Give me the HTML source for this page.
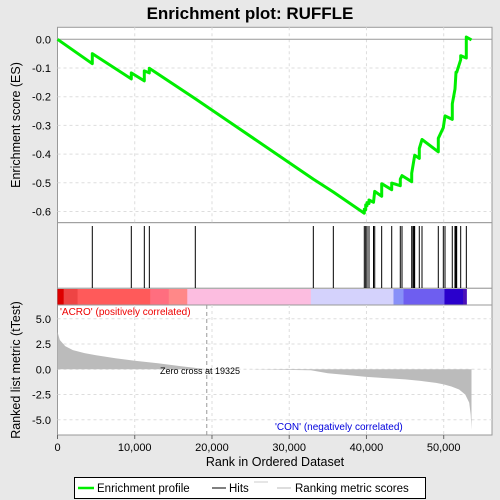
<!DOCTYPE html>
<html><head><meta charset="utf-8">
<style>
body{margin:0;background:#e8e8e8;}
svg{display:block;font-family:"Liberation Sans","DejaVu Sans",sans-serif;}
</style></head>
<body>
<svg id="chart" width="500" height="500" viewBox="0 0 500 500">
<rect x="0" y="0" width="500" height="500" fill="#e8e8e8"/>
<text x="250" y="19" text-anchor="middle" font-size="17" font-weight="bold" fill="#000">Enrichment plot: RUFFLE</text>
<rect x="57.5" y="27.3" width="434.5" height="195.4" fill="#fff" stroke="#999"/>
<rect x="57.5" y="222.7" width="434.5" height="65.6" fill="#fff" stroke="#999"/>
<rect x="57.5" y="288.3" width="434.5" height="16.7" fill="#fff" stroke="#999"/>
<rect x="57.5" y="305" width="434.5" height="130" fill="#fff" stroke="#999"/>
<g id="grid"></g>
<g id="colorbar"></g>
<g id="metric"></g>
<g id="hits"></g>
<g id="es"></g>
<g id="axes"></g>
<text x="60" y="315" font-size="10" fill="#e00">'ACRO' (positively correlated)</text>
<text x="275" y="430" font-size="10" fill="#0000dd">'CON' (negatively correlated)</text>
<text x="160" y="374" font-size="9" fill="#000">Zero cross at 19325</text>
<text transform="translate(20,125) rotate(-90)" text-anchor="middle" font-size="12.5" fill="#000">Enrichment score (ES)</text>
<text transform="translate(20,370) rotate(-90)" text-anchor="middle" font-size="12.5" fill="#000">Ranked list metric (tTest)</text>
<text x="275" y="466" text-anchor="middle" font-size="12.5" fill="#000">Rank in Ordered Dataset</text>
<g>
<rect x="74.5" y="477.5" width="351" height="21" fill="#fff" stroke="#000"/>
<line x1="78" y1="488" x2="94" y2="488" stroke="#00ee00" stroke-width="2.5"/>
<text x="97" y="492" font-size="11.5">Enrichment profile</text>
<line x1="212" y1="488" x2="226" y2="488" stroke="#000" stroke-width="1"/>
<text x="229" y="492" font-size="11.5">Hits</text>
<line x1="254" y1="482" x2="268" y2="482" stroke="#ccc" stroke-width="1"/>
<line x1="277" y1="488" x2="291" y2="488" stroke="#bbb" stroke-width="1"/>
<text x="295" y="492" font-size="11.5">Ranking metric scores</text>
</g>
</svg>
<script>
const xTicks=[0,10000,20000,30000,40000,50000];
const xTickLabels=["0","10,000","20,000","30,000","40,000","50,000"];
const esTicks=[0,-0.1,-0.2,-0.3,-0.4,-0.5,-0.6];
const esTickLabels=["0.0","-0.1","-0.2","-0.3","-0.4","-0.5","-0.6"];
const metricTicks=[5,2.5,0,-2.5,-5];
const metricTickLabels=["5.0","2.5","0.0","-2.5","-5.0"];
const hitRanks=[4505,9555,11240,11890,17840,33120,35710,39720,39900,40070,40330,40910,41070,41970,43270,44380,44600,45860,46030,46160,46240,46840,47190,49300,49950,50170,51110,51460,51590,51680,52200,52930];
const esRanks=[0,4505,4505,9555,9555,11240,11240,11890,11890,17840,33120,35710,39720,39720,39900,39900,40070,40070,40330,40330,40910,41070,41970,41970,43270,43270,44380,44380,44600,45860,45860,46240,46840,46840,47190,49300,49300,49950,50170,51110,51110,51460,51590,51680,52200,52200,52930,52930,53600];
const esValues=[0,-0.085,-0.05,-0.138,-0.117,-0.145,-0.11,-0.117,-0.101,-0.207,-0.487,-0.532,-0.606,-0.592,-0.594,-0.577,-0.58,-0.569,-0.572,-0.56,-0.568,-0.53,-0.547,-0.503,-0.524,-0.501,-0.51,-0.487,-0.475,-0.496,-0.467,-0.404,-0.415,-0.381,-0.349,-0.392,-0.345,-0.308,-0.267,-0.279,-0.225,-0.173,-0.115,-0.115,-0.071,-0.057,-0.065,0.008,-0.002];
const metricRanks=[0,300,1000,2000,3500,5000,7500,10000,13000,16000,19325,25000,32800,35000,38000,40000,43000,45000,47000,49000,50000,51000,52000,52800,53300,53500,53600];
const metricValues=[3.7,2.9,2.3,1.9,1.6,1.4,1.1,0.85,0.6,0.3,0,0,-0.1,-0.4,-0.6,-0.75,-0.9,-1.0,-1.15,-1.35,-1.5,-1.7,-2.0,-2.5,-3.3,-4.5,-6.0];
const cbStops=[0,800,2600,12000,14400,16800,32800,43500,44800,50100,52500,53000,53600];
const cbColors=["#dd0000","#ee4444","#ff5a5a","#ff6e7f","#ff8888","#fcbde0","#d4d2fc","#8890f8","#6e5ef0","#2a00cc","#4a10b8","#ffffff"];

const NS="http://www.w3.org/2000/svg";
const X=r=>57.5+r*0.007724;
const YE=v=>39.3-v*287;
const YM=v=>369.3-v*10.1;
function mk(tag,attrs,parent){const e=document.createElementNS(NS,tag);for(const k in attrs)e.setAttribute(k,attrs[k]);parent.appendChild(e);return e;}
const grid=document.getElementById('grid'),axes=document.getElementById('axes');
xTicks.forEach((t,i)=>{
  if(i>0){
    const g1=mk('line',{x1:X(t),x2:X(t),y1:27.3,y2:222.7,stroke:'#ddd','stroke-dasharray':'3,3'},grid);
    
    
    const g2=mk('line',{x1:X(t),x2:X(t),y1:305,y2:435,stroke:'#ddd','stroke-dasharray':'3,3'},grid);
    
    
  }
  const tk=mk('line',{x1:X(t),x2:X(t),y1:435,y2:439,stroke:'#666'},axes);
  
  
  const tl=mk('text',{x:X(t),y:451,'text-anchor':'middle','font-size':'11'},axes);
  tl.textContent=xTickLabels[i];
  
  
});
esTicks.forEach((t,i)=>{
  const g=mk('line',{x1:57.5,x2:492,y1:YE(t),y2:YE(t),stroke:t===0?'#999':'#ddd','stroke-dasharray':t===0?'':'3,3'},grid);
  
  
  const tl=mk('text',{x:51,y:YE(t)+4,'text-anchor':'end','font-size':'11'},axes);
  tl.textContent=esTickLabels[i];
  
  
});
metricTicks.forEach((t,i)=>{
  const g=mk('line',{x1:57.5,x2:492,y1:YM(t),y2:YM(t),stroke:'#ddd','stroke-dasharray':'3,3'},grid);
  
  
  const tl=mk('text',{x:51,y:YM(t)+4,'text-anchor':'end','font-size':'11'},axes);
  tl.textContent=metricTickLabels[i];
  
  
});
const cb=document.getElementById('colorbar');
cbColors.forEach((c,i)=>{
  const r=mk('rect',{x:X(cbStops[i]),y:289,width:X(cbStops[i+1])-X(cbStops[i])+0.5,height:15.5,fill:c},cb);
  
  
});
const met=document.getElementById('metric');
let d='M'+X(0)+','+YM(0);
metricRanks.forEach((r,i)=>{d+=' L'+X(r).toFixed(1)+','+YM(metricValues[i]).toFixed(1);});
d+=' L'+X(53600)+','+YM(0)+' Z';
const area=mk('path',{d:d,fill:'#bbb',stroke:'none'},met);


const zc=mk('line',{x1:X(19325),x2:X(19325),y1:305,y2:435,stroke:'#999','stroke-dasharray':'4,3'},met);


const hits=document.getElementById('hits');
hitRanks.forEach(r=>{
  const l=mk('line',{x1:X(r),x2:X(r),y1:226,y2:288,stroke:'#000','stroke-width':1},hits);
  
  
});
const es=document.getElementById('es');
const pts=esRanks.map((r,i)=>X(r).toFixed(1)+','+YE(esValues[i]).toFixed(1)).join(' ');
const pl=mk('polyline',{points:pts,fill:'none',stroke:'#00ee00','stroke-width':3,'stroke-linejoin':'round'},es);


</script>
</body></html>
